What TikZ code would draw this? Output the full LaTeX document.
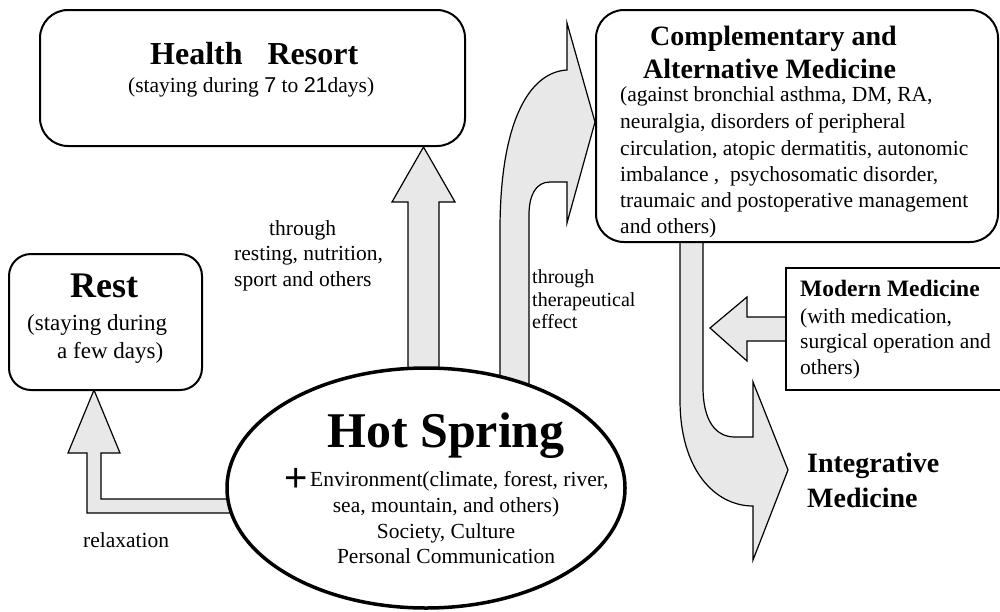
\documentclass[tikz,border=0pt]{standalone}
\usepackage{fontspec}
\setmainfont{Liberation Serif}
\newfontfamily\digitfont{Liberation Sans}
\usetikzlibrary{shapes.geometric}
\definecolor{arrowfill}{gray}{0.91}
\tikzset{
  roundbox/.style={draw=black, line width=2pt, fill=white, inner sep=0pt},
  blockarrow/.style={draw=black, line width=1.2pt, fill=arrowfill, line join=miter},
  bodytext/.style={font=\fontsize{21.5}{26}\selectfont, inner sep=0pt},
  smalltext/.style={font=\fontsize{20}{23}\selectfont, inner sep=0pt},
  boldtitle/.style={font=\bfseries\fontsize{28}{34}\selectfont, inner sep=0pt},
}
\begin{document}
\begin{tikzpicture}[x=1pt, y=-1pt]
\useasboundingbox (0,0) rectangle (1000,611);
\fill[white] (0,0) rectangle (1000,611);

% ---------- block arrows ----------
% Hot Spring -> Health Resort
\draw[blockarrow] (408,385) -- (408,202) -- (392,202) -- (423.5,147) -- (455,202)
  -- (439,202) -- (439,385) -- cycle;
% Hot Spring -> Complementary (curved)
\draw[blockarrow] (500,390) -- (500,230) .. controls (500,120) and (530,72) .. (567,70)
  -- (567,23) -- (595,122) -- (567,223) -- (567,182) -- (550,182)
  .. controls (536,182) and (529,195) .. (529,215) -- (529,390) -- cycle;
% Hot Spring -> Rest
\draw[blockarrow] (255,513) -- (87,513) -- (87,453) -- (68,453) -- (94,390) -- (120,453)
  -- (101,453) -- (101,499) -- (255,499) -- cycle;
% Complementary -> Integrative
\draw[blockarrow] (680,236) -- (680,400) .. controls (680,470) and (715,506) .. (753,506)
  -- (753,560) -- (788,470) -- (753,382) -- (753,437) -- (735,437)
  .. controls (715,437) and (703,420) .. (703,387) -- (703,236) -- cycle;
% Modern Medicine -> shaft
\draw[blockarrow] (787,317) -- (747,317) -- (747,297) -- (710,328) -- (747,361)
  -- (747,341) -- (787,341);

% ---------- boxes ----------
\node[roundbox, rounded corners=28pt, minimum width=425pt, minimum height=136pt] (hr) at (252.5,78) {};
\node[roundbox, rounded corners=28pt, minimum width=402pt, minimum height=232pt] (cam) at (797,126) {};
\node[roundbox, rounded corners=22pt, minimum width=193pt, minimum height=136pt] (rest) at (105.5,322) {};
\node[draw=black, line width=3.5pt, fill=white, ellipse, inner sep=0pt,
      minimum width=398pt, minimum height=240pt] (hs) at (426,488) {};
\node[draw=black, line width=1.5pt, fill=white, inner sep=0pt, anchor=north west,
      minimum width=250pt, minimum height=122pt] (mm) at (785,267) {};

% ---------- Health Resort ----------
\node[inner sep=0pt, anchor=base west, font=\bfseries\fontsize{32}{38}\selectfont] (hrt) at (150,64) {Health\hspace{17pt} Resort};
\node[inner sep=0pt, anchor=base west, font=\fontsize{21.5}{26}\selectfont] (hrs) at (128,92) {(staying during {\digitfont 7} to {\digitfont 21}days)};

% ---------- Complementary ----------
\node[boldtitle, anchor=base west] (camt1) at (650,45) {Complementary and};
\node[boldtitle, anchor=base west] (camt2) at (643,78) {Alternative Medicine};
\node[bodytext, anchor=base west] (camb1) at (620,101) {(against bronchial asthma, DM, RA,};
\node[bodytext, anchor=base west] (camb2) at (620,128) {neuralgia, disorders of peripheral};
\node[bodytext, anchor=base west] (camb3) at (620,155) {circulation, atopic dermatitis, autonomic};
\node[bodytext, anchor=base west] (camb4) at (620,181) {imbalance ,\ \ psychosomatic disorder,};
\node[bodytext, anchor=base west] (camb5) at (620,207) {traumaic and postoperative management};
\node[bodytext, anchor=base west] (camb6) at (620,233) {and others)};

% ---------- Rest ----------
\node[inner sep=0pt, anchor=base west, font=\bfseries\fontsize{36}{40}\selectfont] (restt) at (70,297) {Rest};
\node[inner sep=0pt, anchor=base west, font=\fontsize{23}{28}\selectfont] (rests1) at (27,330) {(staying during};
\node[inner sep=0pt, anchor=base west, font=\fontsize{23}{28}\selectfont] (rests2) at (57,358) {a few days)};

% ---------- arrow labels ----------
\node[bodytext, anchor=base west] (lbl1) at (269,235) {through};
\node[bodytext, anchor=base west] (lbl2) at (234,260) {resting, nutrition,};
\node[bodytext, anchor=base west] (lbl3) at (234,286) {sport and others};
\node[smalltext, anchor=base west] (lbl4) at (532,283) {through};
\node[smalltext, anchor=base west] (lbl5) at (532,306) {therapeutical};
\node[smalltext, anchor=base west] (lbl6) at (532,328) {effect};
\node[bodytext, anchor=base west] (lbl7) at (83,547) {relaxation};

% ---------- Hot Spring ----------
\node[inner sep=0pt, anchor=base, font=\bfseries\fontsize{50}{56}\selectfont] (hst) at (446,447) {Hot Spring};
\node[inner sep=0pt, anchor=center, font=\digitfont\fontsize{40}{40}\selectfont] (hsplus) at (296,480) {+};
\node[bodytext, anchor=base west] (hs1) at (310,486) {Environment(climate, forest, river,};
\node[bodytext, anchor=base] (hs2) at (446,512) {sea, mountain, and others)};
\node[bodytext, anchor=base] (hs3) at (446,538) {Society, Culture};
\node[bodytext, anchor=base] (hs4) at (446,563) {Personal Communication};

% ---------- Modern Medicine ----------
\node[inner sep=0pt, anchor=base west, font=\bfseries\fontsize{23.5}{28}\selectfont] (mmt) at (800,296) {Modern Medicine};
\node[bodytext, anchor=base west] (mm1) at (800,323) {(with medication,};
\node[bodytext, anchor=base west] (mm2) at (800,348) {surgical operation and};
\node[bodytext, anchor=base west] (mm3) at (800,374) {others)};

% ---------- Integrative ----------
\node[boldtitle, anchor=base west] (int1) at (807,472) {Integrative};
\node[boldtitle, anchor=base west] (int2) at (807,507) {Medicine};
\end{tikzpicture}
\end{document}
